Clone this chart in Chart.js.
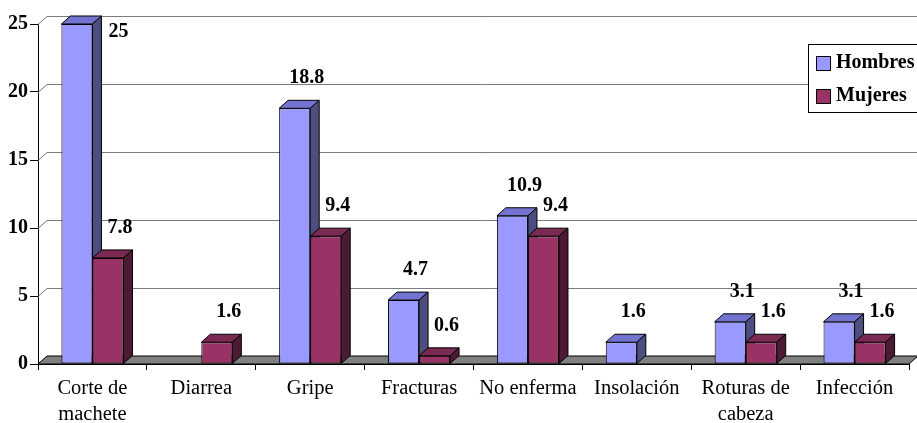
<!DOCTYPE html>
<html>
<head>
<meta charset="utf-8">
<script src="https://cdn.jsdelivr.net/npm/chart.js@4"></script>
<style>
  html, body { margin: 0; padding: 0; background: #fff; }
</style>
</head>
<body>
<canvas id="chart" width="917" height="423"></canvas>
<script>
// Chart data
const categories = [["Corte de", "machete"], "Diarrea", "Gripe", "Fracturas", "No enferma", "Insolación", ["Roturas de", "cabeza"], "Infección"];
const hombres = [25, 0, 18.8, 4.7, 10.9, 1.6, 3.1, 3.1];
const mujeres = [7.8, 1.6, 9.4, 0.6, 9.4, 0, 1.6, 1.6];
const seriesNames = ["Hombres", "Mujeres"];
const yTicks = [0, 5, 10, 15, 20, 25];

const FONT = '"Liberation Serif", serif';
const DX = 9, DY = 8; // 3D depth offset

// front / top / side colours per series
const shades = [
  { front: "#9999ff", top: "#7373d0", side: "#4d4d80" },
  { front: "#993366", top: "#7a2952", side: "#4d1a33" },
];

function poly(ctx, pts, fill) {
  ctx.beginPath();
  ctx.moveTo(pts[0][0], pts[0][1]);
  for (let i = 1; i < pts.length; i++) ctx.lineTo(pts[i][0], pts[i][1]);
  ctx.closePath();
  ctx.fillStyle = fill;
  ctx.fill();
  ctx.stroke();
}

// back wall grid, floor and the top/side faces of the bars
const depthPlugin = {
  id: "depth",
  beforeDatasetsDraw(chart) {
    const { ctx, chartArea } = chart;
    const y = chart.scales.y;
    const left = chartArea.left, right = chartArea.right;
    const y0 = y.getPixelForValue(0);

    ctx.save();
    ctx.lineWidth = 1;
    ctx.strokeStyle = "#7a7a7a";
    yTicks.forEach((v) => {
      const py = Math.round(y.getPixelForValue(v)) + 0.5;
      ctx.beginPath();
      ctx.moveTo(left, py);
      ctx.lineTo(left + DX, py - DY);
      ctx.lineTo(right + DX + 20, py - DY);
      ctx.stroke();
    });

    // floor
    ctx.strokeStyle = "#000";
    poly(ctx, [[left, y0], [left + DX, y0 - DY], [right + DX, y0 - DY], [right, y0]], "#808080");

    chart.data.datasets.forEach((ds, di) => {
      const meta = chart.getDatasetMeta(di);
      meta.data.forEach((el, i) => {
        if (!ds.data[i]) return;
        const x1 = el.x - el.width / 2, x2 = el.x + el.width / 2;
        const top = el.y, base = el.base;
        poly(ctx, [[x1, top], [x1 + DX, top - DY], [x2 + DX, top - DY], [x2, top]], shades[di].top);
        poly(ctx, [[x2, top], [x2 + DX, top - DY], [x2 + DX, base - DY], [x2, base]], shades[di].side);
      });
    });
    ctx.restore();
  },
  afterDatasetsDraw(chart) {
    const { ctx } = chart;
    ctx.save();
    ctx.font = "bold 20px " + FONT;
    ctx.fillStyle = "#000";
    ctx.textAlign = "center";
    ctx.textBaseline = "middle";
    chart.data.datasets.forEach((ds, di) => {
      const meta = chart.getDatasetMeta(di);
      meta.data.forEach((el, i) => {
        const v = ds.data[i];
        if (!v) return;
        let lx = el.x + 12, ly = el.y - 30;
        if (ly < 14) {
          // no room above: put it beside the bar
          lx = el.x + el.width / 2 + DX + 17;
          ly = el.y + 8;
        }
        ctx.fillText(String(v), lx, ly);
      });
    });
    ctx.restore();
  },
  afterDraw(chart) {
    const { ctx } = chart;
    ctx.save();
    ctx.fillStyle = "#fff";
    ctx.strokeStyle = "#000";
    ctx.lineWidth = 1;
    ctx.fillRect(808.5, 44.5, 130, 68);
    ctx.strokeRect(808.5, 44.5, 130, 68);
    ctx.font = "bold 20px " + FONT;
    ctx.textBaseline = "middle";
    ctx.textAlign = "left";
    chart.data.datasets.forEach((ds, di) => {
      const cy = 63 + di * 33;
      ctx.fillStyle = shades[di].front;
      ctx.fillRect(816.5, cy - 6.5, 14, 14);
      ctx.strokeRect(816.5, cy - 6.5, 14, 14);
      ctx.fillStyle = "#000";
      ctx.fillText(ds.label, 836, cy);
    });
    ctx.restore();
  },
};

function buildChart() {
  new Chart(document.getElementById("chart"), {
    type: "bar",
    data: {
      labels: categories,
      datasets: [hombres, mujeres].map((d, i) => ({
        label: seriesNames[i],
        data: d,
        backgroundColor: shades[i].front,
        borderColor: "#000",
        borderWidth: (c) => (c.raw ? 1 : 0),
        borderSkipped: false,
        categoryPercentage: 0.57,
        barPercentage: 1.0,
      })),
    },
    options: {
      responsive: false,
      animation: false,
      devicePixelRatio: 1,
      layout: { padding: { top: 24, right: 8, left: 0, bottom: 0 } },
      plugins: {
        legend: { display: false },
        tooltip: { enabled: false },
      },
      scales: {
        x: {
          afterFit: (s) => { s.height = 59; },
          grid: { offset: true, drawOnChartArea: false, tickLength: 6, color: "#000" },
          border: { display: true, color: "#000" },
          ticks: {
            color: "#000",
            padding: 6,
            maxRotation: 0,
            autoSkip: false,
            font: { family: FONT, size: 20.5, lineHeight: 1.27 },
          },
        },
        y: {
          min: 0,
          max: 25,
          afterFit: (s) => { s.width = 38; },
          grid: { drawOnChartArea: false, tickLength: 8, color: "#000" },
          border: { display: true, color: "#000" },
          ticks: {
            stepSize: 5,
            color: "#000",
            padding: 2,
            font: { family: FONT, size: 20, weight: "bold" },
          },
        },
      },
    },
    plugins: [depthPlugin],
  });
}

Promise.all([
  document.fonts.load('20px "Liberation Serif"'),
  document.fonts.load('bold 20px "Liberation Serif"'),
]).then(buildChart, buildChart);
</script>
</body>
</html>
